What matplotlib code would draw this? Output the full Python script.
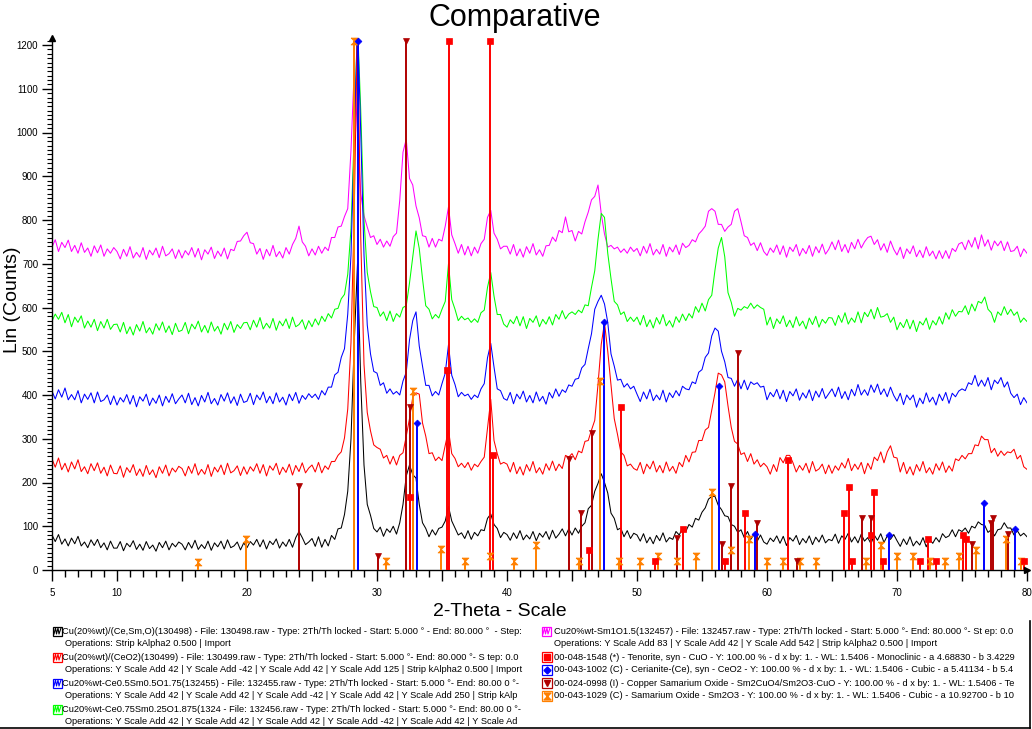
import numpy as np
import matplotlib
matplotlib.use('Agg')
import matplotlib.pyplot as plt
from matplotlib.patches import Rectangle

plt.rcParams['font.family'] = ['Liberation Sans', 'DejaVu Sans']

# ---------------- data ----------------
two_theta = 5.0 + 0.25 * np.arange(301)   # 5.00 ... 80.00 deg, 0.25 step

black_counts = [
    80,65,81,59,71,55,73,60,77,55,64,51,69,56,70,51,62,46,66,50,
    50,65,44,61,53,67,47,59,45,65,49,57,43,63,51,66,46,61,53,64,
    59,46,63,50,68,47,58,49,66,45,62,53,66,48,69,51,55,64,46,62,
    51,65,57,70,53,69,48,66,58,71,50,64,54,70,52,74,88,74,58,64,
    72,54,76,52,70,55,79,70,94,96,127,180,300,520,700,430,240,150,125,95,
    87,98,77,94,86,100,82,108,150,215,240,218,210,150,108,95,76,92,80,95,
    98,112,145,112,96,80,85,72,90,70,86,78,92,90,118,128,104,95,74,86,
    81,68,85,72,90,69,80,71,88,67,84,75,88,70,91,73,82,94,78,94,
    80,96,84,100,108,140,148,180,198,220,200,176,130,118,92,96,76,90,72,84,
    80,66,83,62,75,60,79,67,85,64,74,70,88,80,96,88,104,98,118,114,
    132,142,162,168,168,148,138,124,122,104,100,86,92,74,88,70,82,66,80,64,
    59,73,65,78,61,77,56,74,66,79,58,72,62,78,58,75,64,80,62,70,
    67,82,61,78,70,84,64,76,62,82,66,74,60,80,68,83,63,78,70,81,
    67,54,71,58,76,55,66,57,74,53,70,61,74,64,83,74,78,92,76,92,
    88,96,84,100,96,110,104,102,86,92,78,92,94,108,96,96,80,90,78,84,
    76]

red_counts = [
    254,235,256,229,244,224,247,231,252,225,236,220,243,227,245,221,235,215,240,221,
    220,238,212,234,223,241,216,231,214,239,218,229,211,236,221,240,215,233,224,237,
    232,215,237,221,243,217,230,219,241,214,235,224,240,218,244,222,227,238,216,236,
    219,236,226,243,221,241,215,238,228,244,218,235,223,242,217,239,225,245,222,233,
    240,224,246,222,238,230,248,248,262,270,302,368,520,820,1250,760,470,360,318,286,
    280,276,256,262,242,260,240,262,268,306,346,395,405,402,336,306,266,268,250,258,
    250,285,320,266,255,236,244,234,246,228,242,236,248,258,325,390,296,266,242,246,
    242,224,246,220,236,217,241,226,248,222,234,219,243,228,249,227,242,232,262,258,
    266,252,272,268,294,296,320,342,424,516,565,500,424,346,310,270,262,238,242,232,
    228,246,220,242,231,249,224,239,222,247,226,237,221,246,236,262,247,269,270,296,
    296,320,326,365,405,450,446,430,375,326,294,288,264,268,248,266,242,252,236,244,
    236,219,241,225,257,245,262,262,245,224,239,228,244,222,248,226,231,242,220,240,
    221,238,228,245,233,255,227,242,230,246,220,244,230,258,250,270,245,270,284,258,
    256,224,246,220,236,217,241,226,248,222,234,219,243,228,247,223,238,226,254,250,
    262,254,266,266,286,284,306,298,298,268,278,260,272,262,270,268,276,254,262,236,
    230]

blue_counts = [
    409,391,412,395,416,389,401,389,410,382,402,390,405,382,407,385,389,400,378,398,
    377,394,384,401,379,399,373,396,386,402,376,393,381,400,375,397,383,403,380,391,
    400,382,404,378,394,375,399,384,406,380,392,377,401,386,405,381,396,376,402,383,
    386,404,378,400,389,407,382,397,380,405,384,395,377,402,387,406,381,399,390,403,
    394,402,390,410,400,418,418,446,452,486,506,585,720,980,1250,1000,720,560,494,454,
    450,422,428,404,414,402,408,400,432,452,526,570,590,512,466,422,422,398,408,400,
    426,450,515,445,424,396,406,398,402,390,400,394,414,426,485,518,464,414,410,392,
    388,406,380,402,391,409,384,399,382,407,386,397,379,406,393,414,397,412,406,423,
    420,436,438,462,470,506,540,596,614,628,608,566,494,466,434,436,418,426,414,420,
    402,385,407,391,413,387,400,389,411,384,405,394,410,398,420,414,412,430,426,452,
    458,486,496,535,553,546,500,476,440,438,420,436,414,434,412,430,424,428,418,420,
    389,406,396,413,391,411,385,408,398,414,388,405,393,412,387,409,395,415,392,403,
    414,396,418,392,408,389,413,398,424,400,412,399,423,406,425,401,414,396,418,399,
    386,404,378,400,389,400,372,393,380,405,384,395,377,402,387,406,381,404,396,409,
    414,410,428,424,445,420,434,420,440,412,434,426,440,418,430,404,394,402,378,394,
    382]

green_counts = [
    569,585,573,589,565,584,556,578,566,581,553,569,555,573,547,568,553,573,550,561,
    562,544,566,540,556,537,561,546,568,542,554,539,563,548,567,543,558,538,564,545,
    548,566,540,562,551,569,544,559,542,567,546,557,539,564,549,568,543,561,552,565,
    566,549,571,555,577,551,564,553,575,548,569,558,574,552,578,556,561,572,550,570,
    556,574,560,580,568,586,576,596,598,620,630,676,780,1000,1250,1050,800,680,636,602,
    600,580,590,570,592,568,586,578,600,604,656,715,775,735,666,604,596,574,584,576,
    596,614,700,618,596,570,580,572,576,566,574,566,588,594,646,680,626,584,584,562,
    555,572,563,580,558,579,552,575,566,581,556,573,562,579,560,584,573,593,574,585,
    590,584,594,588,606,604,646,684,756,815,806,724,666,614,606,584,590,568,578,568,
    578,560,582,556,572,553,577,562,584,558,570,555,579,566,585,570,586,576,602,589,
    610,592,618,628,686,736,760,716,634,612,580,598,594,602,598,610,598,606,600,596,
    560,578,552,574,563,581,556,571,554,579,558,569,551,576,561,580,555,573,564,577,
    576,559,582,566,588,562,576,566,590,565,589,579,596,574,600,578,580,586,566,578,
    549,566,554,573,551,571,545,568,560,576,550,570,560,579,562,588,573,595,580,591,
    590,604,584,608,592,614,610,624,596,588,566,590,582,602,584,596,582,590,566,576,
    568]

magenta_counts = [
    738,755,728,749,737,754,728,742,724,748,726,736,717,741,725,743,717,734,724,737,
    728,711,733,717,739,713,726,715,737,710,731,720,736,714,740,718,723,734,712,732,
    713,730,720,737,715,735,709,732,722,738,712,729,717,736,711,733,730,751,752,764,
    772,748,746,722,735,710,733,718,742,716,728,713,737,722,744,758,786,750,740,718,
    734,720,740,724,738,730,760,760,784,786,808,826,960,1145,1000,860,810,784,760,764,
    744,756,738,752,740,762,770,845,955,985,895,880,832,805,764,762,738,758,738,756,
    752,786,830,766,746,724,744,720,740,718,738,724,746,756,806,822,770,756,734,740,
    740,722,744,718,734,715,739,724,746,720,732,717,741,742,761,751,776,771,807,773,
    776,752,774,768,796,818,846,854,880,814,768,738,742,734,738,726,734,724,738,728,
    735,718,740,724,746,720,733,722,744,717,738,727,743,721,747,737,742,755,750,768,
    776,786,820,826,820,790,790,774,784,790,820,826,796,764,760,742,748,730,748,728,
    719,736,726,743,721,741,715,738,728,744,718,735,723,742,717,739,725,745,722,733,
    750,732,754,728,744,725,749,734,756,736,750,760,763,744,755,731,746,726,752,733,
    720,738,712,734,723,741,716,731,714,739,718,729,711,730,712,730,712,735,728,745,
    749,732,754,738,760,734,766,740,755,731,752,741,752,730,750,728,730,740,716,734,
    724]

# reference patterns (stick positions in 2-theta, heights in counts)
cuo_pos = [32.5, 35.4, 35.55, 38.7, 38.9, 46.3, 48.75, 51.4, 53.5, 56.8, 58.3, 61.6,
           65.9, 66.3, 66.5, 68.0, 68.2, 68.9, 71.8, 72.4, 73.0, 75.1, 75.3, 79.8]
cuo_int = [167, 457, 1210, 1210, 263, 46, 373, 20, 94, 20, 130, 251,
           130, 190, 20, 80, 178, 20, 20, 70, 20, 80, 70, 20]

ceo2_pos = [28.55, 33.08, 47.48, 56.33, 59.08, 69.4, 76.7, 79.07]
ceo2_int = [1210, 336, 567, 420, 82, 80, 153, 94]

sm2cuo4_pos = [24.0, 30.1, 32.2, 32.5, 44.8, 45.7, 46.5, 53.1, 56.5, 57.2, 57.75,
               59.2, 62.3, 67.3, 68.0, 75.8, 77.2, 77.4, 78.5]
sm2cuo4_int = [192, 32, 1210, 373, 253, 130, 313, 73, 59, 192, 496,
               108, 20, 119, 119, 59, 108, 119, 82]

sm2o3_pos = [16.2, 19.9, 28.25, 30.7, 32.8, 34.9, 36.8, 38.7, 40.5, 42.2, 45.5, 47.15,
             48.6, 50.2, 51.6, 53.1, 54.5, 55.8, 57.2, 58.6, 60.0, 61.2, 62.5, 63.8,
             67.6, 68.8, 70.0, 71.2, 72.5, 73.7, 74.8, 76.1, 78.4, 79.5]
sm2o3_int = [18, 70, 1210, 20, 410, 48, 20, 32, 20, 57, 20, 432,
             20, 20, 32, 20, 32, 178, 46, 70, 20, 20, 20, 20,
             20, 57, 32, 32, 20, 20, 32, 46, 70, 20]

x_tick_values = [5, 10, 15, 20, 25, 30, 35, 40, 45, 50, 55, 60, 65, 70, 75, 80]
x_tick_labels = ['5', '10', '', '20', '', '30', '', '40', '', '50', '', '60', '', '70', '', '80']
y_tick_values = [0, 100, 200, 300, 400, 500, 600, 700, 800, 900, 1000, 1100, 1200]

legend_left = [
    ("Cu(20%wt)/(Ce,Sm,O)(130498) - File: 130498.raw - Type: 2Th/Th locked - Start: 5.000 \u00b0 - End: 80.000 \u00b0  - Step:",
     "Operations: Strip kAlpha2 0.500 | Import"),
    ("Cu(20%wt)/(CeO2)(130499) - File: 130499.raw - Type: 2Th/Th locked - Start: 5.000 \u00b0- End: 80.000 \u00b0- S tep: 0.0",
     "Operations: Y Scale Add 42 | Y Scale Add -42 | Y Scale Add 42 | Y Scale Add 125 | Strip kAlpha2 0.500 | Import"),
    ("Cu20%wt-Ce0.5Sm0.5O1.75(132455) - File: 132455.raw - Type: 2Th/Th locked - Start: 5.000 \u00b0- End: 80.00 0 \u00b0-",
     "Operations: Y Scale Add 42 | Y Scale Add 42 | Y Scale Add -42 | Y Scale Add 42 | Y Scale Add 250 | Strip kAlp"),
    ("Cu20%wt-Ce0.75Sm0.25O1.875(1324 - File: 132456.raw - Type: 2Th/Th locked - Start: 5.000 \u00b0- End: 80.00 0 \u00b0-",
     "Operations: Y Scale Add 42 | Y Scale Add 42 | Y Scale Add 42 | Y Scale Add -42 | Y Scale Add 42 | Y Scale Ad"),
]
legend_scan2 = ("Cu20%wt-Sm1O1.5(132457) - File: 132457.raw - Type: 2Th/Th locked - Start: 5.000 \u00b0- End: 80.000 \u00b0- St ep: 0.0",
                "Operations: Y Scale Add 83 | Y Scale Add 42 | Y Scale Add 542 | Strip kAlpha2 0.500 | Import")
legend_phases = [
    "00-048-1548 (*) - Tenorite, syn - CuO - Y: 100.00 % - d x by: 1. - WL: 1.5406 - Monoclinic - a 4.68830 - b 3.4229",
    "00-043-1002 (C) - Cerianite-(Ce), syn - CeO2 - Y: 100.00 % - d x by: 1. - WL: 1.5406 - Cubic - a 5.41134 - b 5.4",
    "00-024-0998 (I) - Copper Samarium Oxide - Sm2CuO4/Sm2O3\u00b7CuO - Y: 100.00 % - d x by: 1. - WL: 1.5406 - Te",
    "00-043-1029 (C) - Samarium Oxide - Sm2O3 - Y: 100.00 % - d x by: 1. - WL: 1.5406 - Cubic - a 10.92700 - b 10",
]

# ---------------- styles ----------------
C_BLACK, C_RED, C_BLUE, C_GREEN, C_MAG = '#000000', '#FF0000', '#0000FF', '#00FF00', '#FF00FF'
C_CUO, C_CEO2, C_SMCU, C_SMO = '#FF0000', '#0000FF', '#B00000', '#FF8000'
hourglass = [(-1, 1), (1, 1), (-1, -1), (1, -1), (-1, 1)]

W, H = 1032, 729
fig = plt.figure(figsize=(W / 100, H / 100), dpi=100)
ax = fig.add_axes([52 / W, 159 / H, 975 / W, 532 / H])

for counts, col in [(magenta_counts, C_MAG), (green_counts, C_GREEN), (blue_counts, C_BLUE),
                    (red_counts, C_RED), (black_counts, C_BLACK)]:
    ax.plot(two_theta, counts, color=col, lw=0.75, zorder=2)

phases = [(sm2o3_pos, sm2o3_int, C_SMO, hourglass, 5),
          (sm2cuo4_pos, sm2cuo4_int, C_SMCU, 'v', 5),
          (ceo2_pos, ceo2_int, C_CEO2, 'D', 3.5),
          (cuo_pos, cuo_int, C_CUO, 's', 4.5)]
for pos, inten, col, mk, ms in phases:
    ax.vlines(pos, 0, inten, colors=col, lw=1.4, zorder=3)
    ax.plot(pos, inten, ls='none', marker=mk, color=col, ms=ms, mew=0.5, zorder=4, clip_on=False)

ax.set_xlim(5, 80)
ax.set_ylim(0, 1216)
for s in ['top', 'right']:
    ax.spines[s].set_visible(False)
for s in ['left', 'bottom']:
    ax.spines[s].set_linewidth(1.0)
ax.set_xticks(x_tick_values)
ax.set_xticklabels(x_tick_labels)
ax.set_xticks(np.arange(5, 81, 1), minor=True)
ax.set_yticks(y_tick_values)
ax.set_yticks(np.arange(0, 1216, 10), minor=True)
ax.tick_params(axis='x', which='major', length=8, width=1, labelsize=7, pad=5)
ax.tick_params(axis='x', which='minor', length=5, width=1)
ax.tick_params(axis='y', which='major', length=7, width=1, labelsize=7, pad=3)
ax.tick_params(axis='y', which='minor', length=3.5, width=0.8)
# axis arrow heads
ax.plot([0], [1], marker='^', color='k', ms=4, transform=ax.transAxes, clip_on=False, zorder=6)
ax.plot([1], [0], marker='>', color='k', ms=4, transform=ax.transAxes, clip_on=False, zorder=6)

# titles
fig.text(515 / W, 1 - 18 / H, 'Comparative', ha='center', va='center', fontsize=22)
fig.text(500 / W, 1 - 612 / H, '2-Theta - Scale', ha='center', va='center', fontsize=14)
fig.text(13 / W, 1 - 300 / H, 'Lin (Counts)', ha='center', va='center', rotation=90, fontsize=14)

# legend overlay in pixel coordinates
ov = fig.add_axes([0, 0, 1, 1], zorder=10)
ov.set_xlim(0, W)
ov.set_ylim(H, 0)
ov.axis('off')

fs = 6.7
row0, dy = 631, 13.0

def icon_curve(x0, yc, col):
    ov.add_patch(Rectangle((x0, yc - 4.5), 9, 9, fill=False, ec=col, lw=0.9))
    zx = [x0 + 1, x0 + 2.5, x0 + 3.5, x0 + 5, x0 + 6, x0 + 8]
    zy = [yc + 3, yc - 3, yc + 3, yc - 3, yc + 3, yc - 3]
    ov.plot(zx, zy, color=col, lw=0.8)

def icon_phase(x0, yc, col, mk, ms):
    ov.add_patch(Rectangle((x0, yc - 5), 10, 10, fill=False, ec=col, lw=0.9))
    ov.plot([x0 + 5], [yc], marker=mk, color=col, ms=ms, ls='none')

def leg_text(x, y, s):
    ov.text(x, y, s, fontsize=fs, ha='left', va='center')

left_cols = [C_BLACK, C_RED, C_BLUE, C_GREEN]
for k, ((l1, l2), col) in enumerate(zip(legend_left, left_cols)):
    y1 = row0 + dy * (2 * k)
    y2 = row0 + dy * (2 * k + 1)
    icon_curve(53, y1, col)
    leg_text(62, y1, l1)
    leg_text(65, y2, l2)

icon_curve(542, row0, C_MAG)
leg_text(554, row0, legend_scan2[0])
leg_text(554, row0 + dy, legend_scan2[1])
phase_icons = [(C_CUO, 's', 5), (C_CEO2, 'D', 3.5), (C_SMCU, 'v', 5), (C_SMO, hourglass, 5)]
for k, (txt, (col, mk, ms)) in enumerate(zip(legend_phases, phase_icons)):
    yy = row0 + dy * (k + 2)
    icon_phase(542, yy, col, mk, ms)
    leg_text(554, yy, txt)

# legend frame (bottom and right edges)
ov.plot([0, 1029.5], [727.5, 727.5], color='k', lw=1.2)
ov.plot([1029.5, 1029.5], [621, 727.5], color='k', lw=1.2)

fig.savefig('out.png', dpi=100)
